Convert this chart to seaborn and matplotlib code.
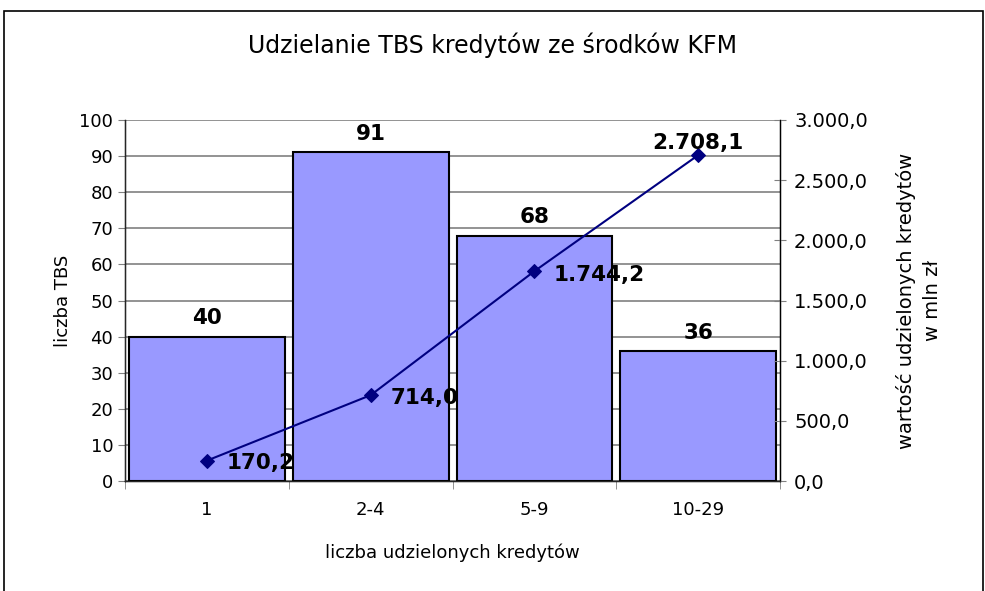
import matplotlib
matplotlib.use("Agg")
import matplotlib.pyplot as plt
import matplotlib.ticker as mticker
from matplotlib.patches import Rectangle
import pandas as pd
import seaborn as sns

# dane z wykresu
kategorie = ["1", "2-4", "5-9", "10-29"]
liczba_tbs = [40, 91, 68, 36]
wartosc_kredytow = [170.2, 714.0, 1744.2, 2708.1]

df = pd.DataFrame({"kat": kategorie, "tbs": liczba_tbs, "wartosc": wartosc_kredytow})


def pl_fmt(v, pos=None):
    s = f"{v:,.1f}"
    return s.replace(",", " ").replace(".", ",").replace(" ", ".")


sns.set_style("ticks")
plt.rcParams["font.family"] = ["DejaVu Sans"]
plt.rcParams["text.color"] = "black"
plt.rcParams["axes.labelcolor"] = "black"
plt.rcParams["xtick.labelcolor"] = "black"
plt.rcParams["ytick.labelcolor"] = "black"

fig = plt.figure(figsize=(9.85, 5.91), dpi=100)
ax = fig.add_axes([0.127, 0.186, 0.665, 0.611])

sns.barplot(data=df, x="kat", y="tbs", ax=ax, color="#9999FF", saturation=1,
            width=0.95, edgecolor="black", linewidth=1.5, zorder=2)
ax.set_xlim(-0.5, 3.5)
ax.set_ylim(0, 100)
ax.set_yticks(range(0, 101, 10))
ax.yaxis.grid(True, color="#808080", linewidth=1.2, zorder=0)
ax.set_axisbelow(True)
ax.tick_params(axis="y", labelsize=13, direction="out", length=5, color="#808080")
ax.tick_params(axis="x", which="major", length=0, labelsize=13, pad=14)
ax.set_xticks([-0.5, 0.5, 1.5, 2.5, 3.5], minor=True)
ax.tick_params(axis="x", which="minor", direction="out", length=6, color="#808080")
ax.set_xlabel("liczba udzielonych kredytów", fontsize=13, labelpad=18)
ax.set_ylabel("liczba TBS", fontsize=13, labelpad=5)
ax.spines["top"].set_visible(False)
for side in ["left", "bottom", "right"]:
    ax.spines[side].set_color("black")
    ax.spines[side].set_linewidth(1.0)

for p, v in zip(ax.patches, liczba_tbs):
    ax.annotate(str(v), (p.get_x() + p.get_width() / 2, p.get_height()),
                xytext=(0, 6), textcoords="offset points", ha="center", va="bottom",
                fontsize=15.5, fontweight="bold")

ax2 = ax.twinx()
sns.lineplot(data=df, x="kat", y="wartosc", ax=ax2, color="#000080", marker="D",
             markersize=7, markeredgecolor="#000080", linewidth=1.5, sort=False)
ax2.set_ylim(0, 3000)
ax2.set_yticks(range(0, 3001, 500))
ax2.yaxis.set_major_formatter(mticker.FuncFormatter(pl_fmt))
ax2.tick_params(axis="y", labelsize=14, direction="inout", length=8, color="#808080", pad=6)
ax2.set_ylabel("wartość udzielonych kredytów\nw mln zł", fontsize=14, labelpad=20,
               linespacing=1.5)
ax2.spines["top"].set_visible(False)
ax2.spines["right"].set_color("black")
ax2.set_xlim(-0.5, 3.5)

offsets = [(14, -2), (14, -2), (14, -3), (0, 9)]
aligns = [("left", "center"), ("left", "center"), ("left", "center"), ("center", "center")]
for i, (v, off, al) in enumerate(zip(wartosc_kredytow, offsets, aligns)):
    ax2.annotate(pl_fmt(v), (i, v), xytext=off, textcoords="offset points",
                 ha=al[0], va=al[1], fontsize=15.5, fontweight="bold")

fig.text(0.5, 0.924, "Udzielanie TBS kredytów ze środków KFM", ha="center", va="center",
         fontsize=17)

fig.patches.append(Rectangle((4 / 985, -0.05), 979 / 985, 1.05 - 11 / 591,
                             transform=fig.transFigure, fill=False,
                             edgecolor="black", linewidth=1.2))

fig.savefig("out.png", dpi=100)
